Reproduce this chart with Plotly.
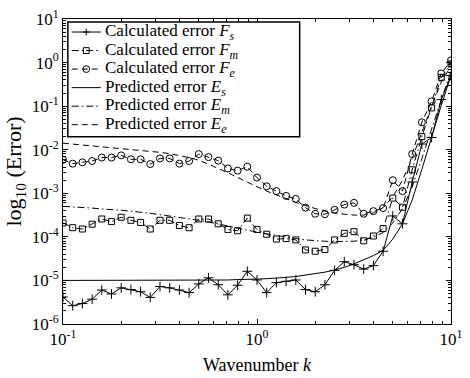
import plotly.graph_objects as go

# Wavenumber grid (uniform in log10 k, step 0.05 decade)
k = [0.1, 0.1122, 0.1259, 0.1413, 0.1585, 0.1778, 0.1995, 0.2239, 0.2512, 0.2818,
     0.3162, 0.3548, 0.3981, 0.4467, 0.5012, 0.5623, 0.6310, 0.7079, 0.7943, 0.8913,
     1.0, 1.122, 1.259, 1.413, 1.585, 1.778, 1.995, 2.239, 2.512, 2.818,
     3.162, 3.548, 3.981, 4.467, 5.012, 5.623, 6.310, 7.079, 7.943, 8.913, 10.0]

# log10 of error values
Fs_log = [-5.38, -5.58, -5.53, -5.43, -5.22, -5.31, -5.17, -5.21, -5.26, -5.39,
          -5.14, -5.17, -5.22, -5.28, -5.08, -4.94, -5.10, -5.33, -5.11, -4.79,
          -4.99, -5.28, -5.05, -5.02, -4.99, -5.21, -5.26, -5.10, -4.77, -4.57,
          -4.64, -4.74, -4.66, -4.33, -3.52, -3.70, -2.74, -1.87, -1.72, -0.85, -0.30]
Fm_log = [-3.68, -3.79, -3.82, -3.71, -3.59, -3.65, -3.55, -3.62, -3.67, -3.82,
          -3.62, -3.62, -3.74, -3.79, -3.59, -3.59, -3.70, -3.83, -3.86, -3.57,
          -3.83, -3.94, -4.05, -4.04, -4.07, -4.30, -4.33, -4.29, -4.07, -3.92,
          -3.88, -4.09, -3.98, -3.81, -3.11, -3.32, -2.46, -1.70, -1.04, -0.34, -0.03]
Fe_log = [-2.23, -2.32, -2.29, -2.26, -2.18, -2.18, -2.13, -2.22, -2.22, -2.33,
          -2.20, -2.20, -2.32, -2.26, -2.10, -2.17, -2.25, -2.43, -2.48, -2.39,
          -2.64, -2.84, -2.95, -3.06, -3.13, -3.33, -3.47, -3.48, -3.38, -3.26,
          -3.22, -3.47, -3.41, -3.34, -2.70, -2.95, -2.10, -1.37, -0.89, -0.25, 0.05]
Es_log = [-5.00, -5.00, -5.00, -5.00, -5.00, -5.00, -5.00, -5.00, -5.00, -5.00,
          -5.00, -5.00, -5.00, -4.99, -4.99, -4.99, -4.99, -4.99, -4.98, -4.98,
          -4.97, -4.96, -4.95, -4.93, -4.91, -4.88, -4.85, -4.81, -4.76, -4.70,
          -4.62, -4.53, -4.43, -4.31, -4.05, -3.70, -3.15, -2.45, -1.70, -0.98, -0.30]
Em_log = [-3.30, -3.31, -3.33, -3.34, -3.36, -3.37, -3.39, -3.41, -3.43, -3.46,
          -3.49, -3.52, -3.55, -3.58, -3.62, -3.66, -3.70, -3.75, -3.80, -3.85,
          -3.89, -3.93, -3.97, -4.01, -4.04, -4.07, -4.09, -4.10, -4.11, -4.11,
          -4.10, -4.07, -4.01, -3.90, -3.68, -3.35, -2.85, -2.20, -1.50, -0.85, -0.20]
Ee_log = [-1.85, -1.87, -1.89, -1.91, -1.93, -1.95, -1.97, -1.99, -2.01, -2.04,
          -2.06, -2.09, -2.13, -2.18, -2.24, -2.33, -2.43, -2.53, -2.64, -2.75,
          -2.85, -2.95, -3.04, -3.13, -3.21, -3.28, -3.35, -3.40, -3.45, -3.48,
          -3.50, -3.50, -3.45, -3.33, -3.08, -2.70, -2.20, -1.60, -1.00, -0.45, -0.08]

names = ["Calculated error <i>F<sub>s</sub></i>",
         "Calculated error <i>F<sub>m</sub></i>",
         "Calculated error <i>F<sub>e</sub></i>",
         "Predicted error <i>E<sub>s</sub></i>",
         "Predicted error <i>E<sub>m</sub></i>",
         "Predicted error <i>E<sub>e</sub></i>"]

y_tick_exp = [1, 0, -1, -2, -3, -4, -5, -6]
x_tick_exp = [-1, 0, 1]
minor_mult = [2, 3, 4, 5, 6, 7, 8, 9]

FONT = "Liberation Serif, Times New Roman, serif"
DASH = "6px,4px"
DASHDOT = "7px,3px,1.5px,3px"

# plot area in pixels
PL, PR, PT, PB = 63, 463, 18, 334
PW, PH = PR - PL, PB - PT


def px_x(p):
    return (p - PL) / PW


def px_y(p):
    return (PB - p) / PH


line_dash = ["solid", DASHDOT, DASH, "solid", DASHDOT, DASH]
marker_sym = ["cross-thin-open", "square-open", "circle-open", None, None, None]
marker_size = [7, 6, 7, None, None, None]
series = [Fs_log, Fm_log, Fe_log, Es_log, Em_log, Ee_log]


def vals(lst):
    return [10 ** v for v in lst]


fig = go.Figure()
for nm, s, d, ms, sz in zip(names, series, line_dash, marker_sym, marker_size):
    kw = dict(line=dict(color="black", width=1, dash=d))
    if ms:
        kw["mode"] = "lines+markers"
        kw["marker"] = dict(symbol=ms, size=sz, color="black", line=dict(width=1, color="black"))
    else:
        kw["mode"] = "lines"
    fig.add_trace(go.Scatter(x=k, y=vals(s), name=nm, showlegend=False, **kw))

# ---- hand-built legend (shapes + annotations in paper coordinates) ----
shapes = []
shapes.append(dict(type="rect", xref="paper", yref="paper",
                   x0=px_x(68), x1=px_x(307), y0=px_y(140), y1=px_y(21),
                   line=dict(color="black", width=1.5), fillcolor="white", layer="above"))
annotations = []
for i in range(6):
    yc = 31.5 + 19.2 * i
    shapes.append(dict(type="line", xref="paper", yref="paper",
                       x0=px_x(72), x1=px_x(102), y0=px_y(yc), y1=px_y(yc),
                       line=dict(color="black", width=1, dash=line_dash[i]), layer="above"))
    cx = 87
    if marker_sym[i] == "cross-thin-open":
        shapes.append(dict(type="line", xref="paper", yref="paper",
                           x0=px_x(cx - 3.5), x1=px_x(cx + 3.5), y0=px_y(yc), y1=px_y(yc),
                           line=dict(color="black", width=1), layer="above"))
        shapes.append(dict(type="line", xref="paper", yref="paper",
                           x0=px_x(cx), x1=px_x(cx), y0=px_y(yc - 3.5), y1=px_y(yc + 3.5),
                           line=dict(color="black", width=1), layer="above"))
    elif marker_sym[i] == "square-open":
        shapes.append(dict(type="rect", xref="paper", yref="paper",
                           x0=px_x(cx - 3), x1=px_x(cx + 3), y0=px_y(yc + 3), y1=px_y(yc - 3),
                           line=dict(color="black", width=1), fillcolor="rgba(0,0,0,0)", layer="above"))
    elif marker_sym[i] == "circle-open":
        shapes.append(dict(type="circle", xref="paper", yref="paper",
                           x0=px_x(cx - 3.5), x1=px_x(cx + 3.5), y0=px_y(yc + 3.5), y1=px_y(yc - 3.5),
                           line=dict(color="black", width=1), fillcolor="rgba(0,0,0,0)", layer="above"))
    annotations.append(dict(x=px_x(104), y=px_y(yc), xref="paper", yref="paper",
                            text=names[i], showarrow=False, xanchor="left", yanchor="middle",
                            font=dict(family=FONT, size=17, color="black")))


def minor_vals(exps):
    lo, hi = min(exps), max(exps)
    return [m * 10 ** e for e in range(lo, hi) for m in minor_mult]


axis_common = dict(type="log", showline=True, linecolor="black", linewidth=1,
                   mirror="allticks", ticks="inside", ticklen=5, tickcolor="black",
                   showgrid=False, zeroline=False,
                   tickfont=dict(family=FONT, size=17, color="black"))

fig.update_layout(
    width=470, height=378,
    margin=dict(l=PL, r=470 - PR, t=PT, b=378 - PB),
    paper_bgcolor="white", plot_bgcolor="white",
    font=dict(family=FONT, color="black"),
    showlegend=False,
    shapes=shapes,
    annotations=annotations,
    xaxis=dict(**axis_common, range=[-1, 1], ticklabeloverflow="allow",
               tickvals=[10 ** e for e in x_tick_exp],
               ticktext=[f"10<sup>{e}</sup>" for e in x_tick_exp],
               minor=dict(tickmode="array", tickvals=minor_vals(x_tick_exp),
                          ticks="inside", ticklen=3, tickcolor="black", showgrid=False),
               title=dict(text="Wavenumber <i>k</i>", font=dict(family=FONT, size=18, color="black"),
                          standoff=9)),
    yaxis=dict(**axis_common, range=[-6, 1],
               tickvals=[10 ** e for e in y_tick_exp],
               ticktext=[f"10<sup>{e}</sup>" for e in y_tick_exp],
               minor=dict(tickmode="array", tickvals=minor_vals(y_tick_exp),
                          ticks="inside", ticklen=3, tickcolor="black", showgrid=False),
               title=dict(text="log<sub>10</sub> (Error)", font=dict(family=FONT, size=22, color="black"),
                          standoff=3)),
)

fig.write_html("out.html")
